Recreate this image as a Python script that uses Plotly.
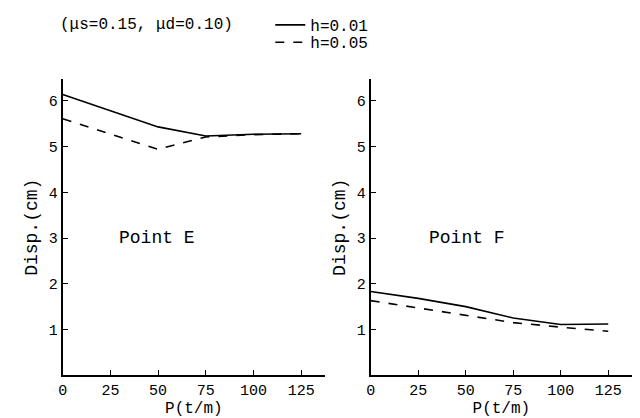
import plotly.graph_objects as go

P = [0, 25, 50, 75, 100, 125]
E_h001 = [6.14, 5.78, 5.43, 5.23, 5.27, 5.28]
E_h005 = [5.61, 5.28, 4.94, 5.21, 5.26, 5.28]
F_h001 = [1.83, 1.68, 1.50, 1.25, 1.11, 1.12]
F_h005 = [1.63, 1.47, 1.31, 1.15, 1.05, 0.96]
x_ticks = [0, 25, 50, 75, 100, 125]
y_ticks = [1, 2, 3, 4, 5, 6]
series_names = ["h=0.01", "h=0.05"]
panel_labels = ["Point E", "Point F"]

FONT = "Liberation Mono"
fig = go.Figure()

for i, (a, b) in enumerate([(E_h001, E_h005), (F_h001, F_h005)]):
    xa = "x" if i == 0 else "x2"
    ya = "y" if i == 0 else "y2"
    fig.add_trace(go.Scatter(x=P, y=a, mode="lines", name=series_names[0],
                             line=dict(color="black", width=1.6, dash="solid"),
                             xaxis=xa, yaxis=ya, showlegend=(i == 0), legend="legend"))
    fig.add_trace(go.Scatter(x=P, y=b, mode="lines", name=series_names[1],
                             line=dict(color="black", width=1.6, dash="dash"),
                             xaxis=xa, yaxis=ya, showlegend=(i == 0), legend="legend2"))

axis_common = dict(showline=True, linecolor="black", linewidth=2, showgrid=False,
                   zeroline=False, ticks="inside", ticklen=5, tickcolor="black",
                   automargin=False,
                   tickfont=dict(family=FONT, size=15, color="black"))

xtitle = dict(text="P(t/m)", standoff=3, font=dict(family=FONT, size=16))
ytitle = dict(text="Disp.(cm)", standoff=6, font=dict(family=FONT, size=18))
leg_common = dict(xanchor="left", yanchor="middle",
                  font=dict(family=FONT, size=16, color="black"),
                  bgcolor="rgba(0,0,0,0)", itemwidth=30)

fig.update_layout(
    width=632, height=410,
    margin=dict(l=0, r=0, t=0, b=0),
    paper_bgcolor="white", plot_bgcolor="white",
    font=dict(family=FONT, size=16, color="black"),
    xaxis=dict(domain=[0.0866, 0.5016], range=[0, 137.5], tickvals=x_ticks,
               title=xtitle, anchor="y", **axis_common),
    yaxis=dict(domain=[0.1073, 0.8488], range=[0, 6.47], tickvals=y_ticks,
               title=ytitle, anchor="x", **axis_common),
    xaxis2=dict(domain=[0.5739, 0.9873], range=[0, 137.5], tickvals=x_ticks,
                title=xtitle, anchor="y2", **axis_common),
    yaxis2=dict(domain=[0.1073, 0.8488], range=[0, 6.47], tickvals=y_ticks,
                title=ytitle, anchor="x2", **axis_common),
    legend=dict(x=0.415, y=0.9854, **leg_common),
    legend2=dict(x=0.415, y=0.9415, **leg_common),
    showlegend=True,
    annotations=[
        dict(text="(μs=0.15, μd=0.10)", x=0.0791, y=0.9854, xref="paper", yref="paper",
             xanchor="left", yanchor="middle", showarrow=False,
             font=dict(family=FONT, size=16, color="black")),
        dict(text=panel_labels[0], x=28.5, y=3.0, xref="x", yref="y",
             xanchor="left", yanchor="middle", showarrow=False,
             font=dict(family=FONT, size=18, color="black")),
        dict(text=panel_labels[1], x=29.6, y=3.0, xref="x2", yref="y2",
             xanchor="left", yanchor="middle", showarrow=False,
             font=dict(family=FONT, size=18, color="black")),
    ],
)

fig.write_html("out.html")
